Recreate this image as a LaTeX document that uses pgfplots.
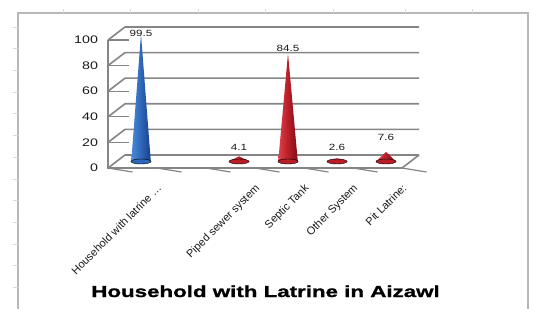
\documentclass[border=0pt]{standalone}
\usepackage{pgfplots}
\pgfplotsset{compat=1.18}
\usepackage{pgfplotstable}
\usepackage{fontspec}
\setmainfont{Liberation Sans}
\newfontfamily\labfont[FakeStretch=1.3]{Liberation Sans}
\newfontfamily\titlefont[FakeStretch=1.4, BoldFeatures={FakeBold=1.2}]{Liberation Sans}
\definecolor{gridc}{HTML}{858585}
\definecolor{blueL}{HTML}{4A8AD8}
\definecolor{blueD}{HTML}{163F88}
\definecolor{blueM}{HTML}{2E66B8}
\definecolor{redL}{HTML}{E0404A}
\definecolor{redD}{HTML}{7E0E16}
\definecolor{redM}{HTML}{B81E28}
\pgfplotstableread{
x y dy
0 99.5 1
2 4.1 9
3 84.5 5
4 2.6 11
5 7.6 14
}\labtab
\begin{document}
\begin{tikzpicture}[x=1bp,y=1bp]
\useasboundingbox (0,0) rectangle (533,309);
% outer chart border
\draw[black!28, line width=1.4bp] (18,0) -- (18,296) -- (528,296) -- (528,0);
\foreach \t in {63,130,198,265,333,405,472} \draw[black!15, line width=0.8bp] (\t,296) -- (\t,300);
\foreach \t in {0,...,12} \draw[black!15, line width=0.8bp] (13,{282-21.7*\t}) -- (18,{282-21.7*\t});
\begin{axis}[
  at={(116.5bp,147.5bp)}, anchor=south west,
  scale only axis, width=294bp, height=128bp,
  xmin=-0.5, xmax=5.5, ymin=0, ymax=100,
  clip=false,
  /pgf/number format/assume math mode=true,
  axis line style={draw=none},
  major tick style={draw=none},
  ytick={0,20,40,60,80,100},
  yticklabel style={font=\fontsize{11}{12}\labfont, text=black!90, anchor=east, xshift=-15bp, yshift=-6.5bp},
  xtick={0,2,3,4,5},
  xticklabels={{Household with latrine \ldots},{Piped sewer system},{Septic Tank},{Other System},{Pit Latrine:}},
  xticklabel style={font=\fontsize{11}{12}\selectfont, text=black!90, rotate=45, anchor=north east, xshift=-1bp, yshift=-23bp},
]
% back wall gridlines and depth lines
\foreach \v in {0,20,40,60,80,100} {
  \edef\tmp{\noexpand\draw[gridc, line width=1.6bp] (axis cs:-0.5-0.1735,\v-5.08) -- (axis cs:-0.5+0.1735,\v+5.08) -- (axis cs:5.5+0.1735,\v+5.08);}
  \tmp
  \edef\tmp{\noexpand\draw[gridc, line width=1.2bp] (axis cs:-0.5-0.1735,\v-5.08) -- ++(-4bp,0);}
  \tmp
}
% floor front and right edges
\draw[gridc, line width=1.6bp] (axis cs:-0.5-0.1735,100-5.08) -- (axis cs:-0.5-0.1735,-5.08) -- (axis cs:5.5-0.1735,-5.08) -- (axis cs:5.5+0.1735,5.08);
\foreach \c in {-0.5,0.5,1.5,2.5,3.5,4.5,5.5} {
  \edef\tmp{\noexpand\draw[gridc, line width=1.2bp] (axis cs:\c-0.1735,-5.08) -- ++(0,-4bp);}
  \tmp
}
% cone bases
\addplot[only marks, mark=*, mark size=2.5bp, mark options={xscale=4, draw=none, fill=blueM}] coordinates {(0,0)};
\addplot[only marks, mark=*, mark size=2.5bp, mark options={xscale=4, draw=none, fill=redM}] coordinates {(2,0) (3,0) (4,0) (5,0)};
% cones
\addplot[draw=none, left color=blueL, right color=blueD, middle color=blueM] coordinates {(-0.2,0) (0,99.5) (0.2,0)} -- cycle;
\addplot[draw=none, left color=redL, right color=redD, middle color=redM] coordinates {(1.79,0) (2,4.1) (2.21,0)} -- cycle;
\addplot[draw=none, left color=redL, right color=redD, middle color=redM] coordinates {(2.8,0) (3,84.5) (3.2,0)} -- cycle;
\addplot[draw=none, left color=redL, right color=redD, middle color=redM] coordinates {(3.79,0) (4,2.6) (4.21,0)} -- cycle;
\addplot[draw=none, left color=redL, right color=redD, middle color=redM] coordinates {(4.8,0) (5,7.6) (5.2,0)} -- cycle;
% data labels
\addplot[draw=none, mark=none, nodes near coords, point meta=y,
  visualization depends on={\thisrow{dy} \as \dy},
  nodes near coords style={anchor=center, yshift=\dy bp, font=\fontsize{9}{10}\labfont, text=black!90, /pgf/number format/.cd, fixed, precision=1, fixed zerofill, assume math mode=true}]
  table[x=x, y=y] {\labtab};
\end{axis}
\node[font=\fontsize{16}{18}\titlefont\bfseries, anchor=base] at (265.5,12) {Household with Latrine in Aizawl};
\end{tikzpicture}
\end{document}
